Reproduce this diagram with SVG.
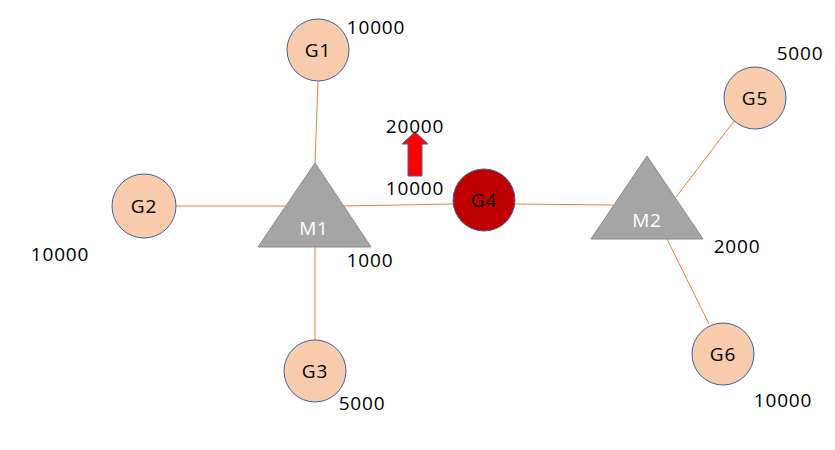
<svg xmlns="http://www.w3.org/2000/svg" width="835" height="450" viewBox="0 0 835 450">
<style>
text{font-family:"Open Sans","Liberation Sans",Arial,sans-serif;font-size:19px;fill:#000;text-anchor:middle;letter-spacing:0.8px}
.c{fill:#F8CBAD;stroke:#41609A;stroke-width:1}
.g4{fill:#C00000;stroke:#41609A;stroke-width:1}
.t{fill:#A5A5A5;stroke:#8A8A8A;stroke-width:1}
.w{fill:#fff}
.e{stroke:#ED7D31;stroke-width:1;fill:none}
</style>
<rect width="835" height="450" fill="#fff"/>
<g id="connectors">
<line class="e" x1="318" y1="81" x2="315" y2="163"/>
<line class="e" x1="176" y1="206" x2="287" y2="206"/>
<line class="e" x1="343" y1="206" x2="453" y2="204"/>
<line class="e" x1="315" y1="247" x2="315" y2="340"/>
<line class="e" x1="515" y1="204" x2="613" y2="205"/>
<line class="e" x1="676" y1="197" x2="734" y2="121"/>
<line class="e" x1="667" y1="239" x2="709" y2="324"/>
</g>
<g id="G1"><circle class="c" cx="318" cy="50" r="31"/><text x="318" y="57">G1</text></g>
<g id="G2"><circle class="c" cx="144" cy="206" r="32"/><text x="144" y="213">G2</text></g>
<g id="G3"><circle class="c" cx="315" cy="371" r="31"/><text x="315" y="378">G3</text></g>
<g id="G4"><circle class="g4" cx="484" cy="200" r="31"/><text x="484" y="207">G4</text></g>
<g id="G5"><circle class="c" cx="755" cy="98" r="31"/><text x="755" y="105">G5</text></g>
<g id="G6"><circle class="c" cx="723" cy="354" r="31"/><text x="723" y="361">G6</text></g>
<g id="M1"><polygon class="t" points="315,163 258,247 371,247"/><text class="w" x="314" y="235">M1</text></g>
<g id="M2"><polygon class="t" points="647,156 591,239 703,239"/><text class="w" x="647" y="227">M2</text></g>
<g id="arrow"><polygon points="415,132 402,144 408,144 408,176 422,176 422,144 428,144" fill="#FF0000" stroke="#41609A" stroke-width="1"/></g>
<g id="labels">
<text x="376" y="34">10000</text>
<text x="415" y="133">20000</text>
<text x="415" y="195">10000</text>
<text x="60" y="261">10000</text>
<text x="370" y="267">1000</text>
<text x="362" y="410">5000</text>
<text x="800" y="60">5000</text>
<text x="737" y="253">2000</text>
<text x="783" y="407">10000</text>
</g>
</svg>
